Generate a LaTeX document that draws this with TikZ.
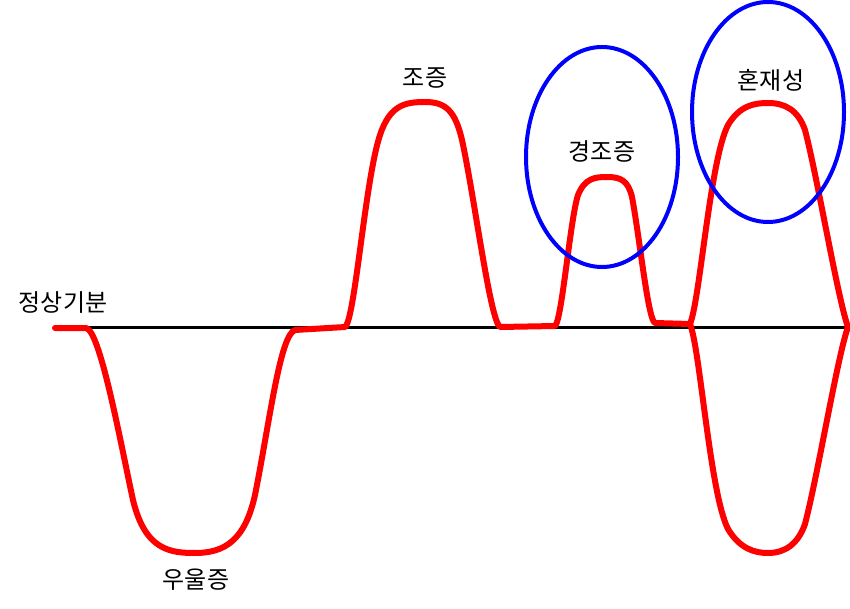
\documentclass[tikz,border=0pt]{standalone}
\usepackage{fontspec}
\newfontfamily\kr{Noto Sans CJK KR}
\usepackage{tikz}
\usetikzlibrary{positioning}

\begin{document}
\begin{tikzpicture}[x=1pt, y=-1pt,
		                    mood/.style={draw=red, line width=6pt, line join=round, line cap=round},
		                    zone/.style={draw=blue, line width=4pt},
		                    label/.style={font=\kr\fontsize{24}{28}\selectfont, inner sep=0pt}]
		  \useasboundingbox (0,0) rectangle (850,609);
		  
		  % baseline
		  \coordinate (base-l) at (85,327);
		  \coordinate (base-r) at (850,327);
		  \draw[line width=3pt] (base-l) -- (base-r);
		  
		  % mood curve
		  \draw[mood] (55,328) -- (86,328)
		  	.. controls (100,330) and (120,440) .. (133,500)
		  	.. controls (145,550) and (170,553) .. (195,553)
		  	.. controls (225,553) and (245,540) .. (255,495)
		  	.. controls (270,420) and (280,335) .. (295,330) -- (345,327)
		  	.. controls (355,320) and (365,180) .. (380,135)
		  	.. controls (390,105) and (405,102) .. (425,102)
		  	.. controls (445,102) and (455,110) .. (462,140)
		  	.. controls (475,200) and (490,320) .. (500,327) -- (555,326)
		  	.. controls (562,320) and (570,220) .. (578,195)
		  	.. controls (585,178) and (595,177) .. (607,177)
		  	.. controls (620,177) and (628,180) .. (632,197)
		  	.. controls (640,240) and (648,320) .. (655,323) -- (690,324)
		  	.. controls (700,300) and (710,160) .. (728,125)
		  	.. controls (740,105) and (755,103) .. (768,103)
		  	.. controls (785,103) and (798,110) .. (805,130)
		  	.. controls (818,180) and (838,300) .. (848,327);
		  \draw[mood] (690,324)
		  	.. controls (700,348) and (710,494) .. (728,529)
		  	.. controls (740,549) and (755,553) .. (768,553)
		  	.. controls (785,553) and (798,544) .. (805,524)
		  	.. controls (818,474) and (838,354) .. (848,327);
		  
		  % highlighted episodes
		  \draw[zone] (602,157) ellipse [x radius=76, y radius=110];
		  \draw[zone] (768,112) ellipse [x radius=76, y radius=110];
		  
		  \node[label] (normal)  at (63,303)  {정상기분};
		  \node[label] (dep)     at (196,580) {우울증};
		  \node[label] (mania)   at (425,78)  {조증};
		  \node[label] (hypo)    at (602,152) {경조증};
		  \node[label] (mixed)   at (771,80)  {혼재성};
		\end{tikzpicture}
\end{document}
